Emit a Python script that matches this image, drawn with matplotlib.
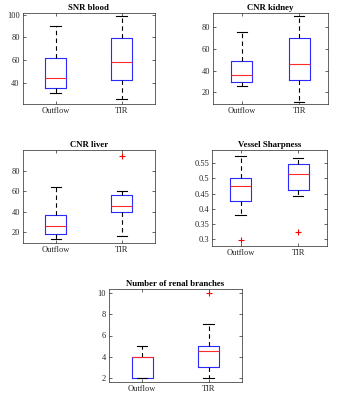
"""Box plots of image-quality metrics, Outflow vs TIR (MATLAB-style)."""
import matplotlib
matplotlib.use("Agg")
import matplotlib.pyplot as plt
from matplotlib.ticker import FixedLocator

plt.rcParams["font.family"] = ["Liberation Serif", "DejaVu Serif"]

groups = ["Outflow", "TIR"]

titles = ["SNR blood", "CNR kidney", "CNR liver", "Vessel Sharpness",
          "Number of renal branches"]

# per panel: [Outflow, TIR]
whis_lo = [[31, 25.2], [25.6, 11.6], [13.5, 16.4], [0.379, 0.441], [2, 2]]
q1 = [[35.2, 42], [29.6, 31.4], [18.4, 39.8], [0.426, 0.462], [2, 3]]
medians = [[44, 58.3], [36, 45.6], [26.5, 45.6], [0.475, 0.516], [4, 4.5]]
q3 = [[61.5, 79.3], [49, 69.2], [36.9, 56.6], [0.503, 0.547], [4, 5]]
whis_hi = [[90, 99], [74.7, 89.3], [63.8, 59.9], [0.573, 0.569], [5, 7.05]]
outliers = [[[], []], [[], []], [[], [95]], [[0.296], [0.324]], [[], [10]]]

y_limits = [(21, 101.5), (9.5, 92.4), (9.6, 100.4), (0.277, 0.594), (1.59, 10.41)]
y_ticks = [[40, 60, 80, 100], [20, 40, 60, 80], [20, 40, 60, 80],
           [0.3, 0.35, 0.4, 0.45, 0.5, 0.55], [2, 4, 6, 8, 10]]
y_ticklabels = [None, None, None,
                ["0.3", "0.35", "0.4", "0.45", "0.5", "0.55"], None]

# axes rectangles in figure fractions
positions = [
    [0.065, 0.740, 0.381, 0.2275],
    [0.614, 0.740, 0.331, 0.2275],
    [0.066, 0.3925, 0.380, 0.2325],
    [0.611, 0.385, 0.331, 0.240],
    [0.314, 0.045, 0.383, 0.2325],
]

FIG_W, FIG_H, DPI = 3.47, 4.00, 100
BOX_PX = 21

fig = plt.figure(figsize=(FIG_W, FIG_H), dpi=DPI)

for k, rect in enumerate(positions):
    ax = fig.add_axes(rect)
    stats = []
    for g in range(2):
        stats.append(dict(label=groups[g], whislo=whis_lo[k][g], q1=q1[k][g],
                          med=medians[k][g], q3=q3[k][g], whishi=whis_hi[k][g],
                          fliers=outliers[k][g]))
    w = BOX_PX / (rect[2] * FIG_W * DPI) * 2.0
    ax.bxp(stats, positions=[1, 2], widths=w,
           boxprops=dict(color="#2a2aff", linewidth=0.8),
           medianprops=dict(color="#ff2a2a", linewidth=0.8),
           whiskerprops=dict(color="black", linewidth=0.8, linestyle=(0, (4, 3))),
           capprops=dict(color="black", linewidth=0.8),
           flierprops=dict(marker="+", markeredgecolor="red", markersize=5,
                           markeredgewidth=0.8, linestyle="none"))
    ax.set_xlim(0.5, 2.5)
    ax.set_ylim(*y_limits[k])
    ax.yaxis.set_major_locator(FixedLocator(y_ticks[k]))
    if y_ticklabels[k] is not None:
        ax.set_yticklabels(y_ticklabels[k])
    ax.set_xticks([1, 2])
    ax.set_xticklabels(groups)
    ax.tick_params(direction="in", length=2, width=0.5, labelsize=6,
                   colors="#262626", top=True, right=True, pad=2)
    for sp in ax.spines.values():
        sp.set_linewidth(0.5)
        sp.set_color("#262626")
    ax.set_title(titles[k], fontsize=6.3, fontweight="bold", pad=2)

fig.savefig("out.png", dpi=DPI)
